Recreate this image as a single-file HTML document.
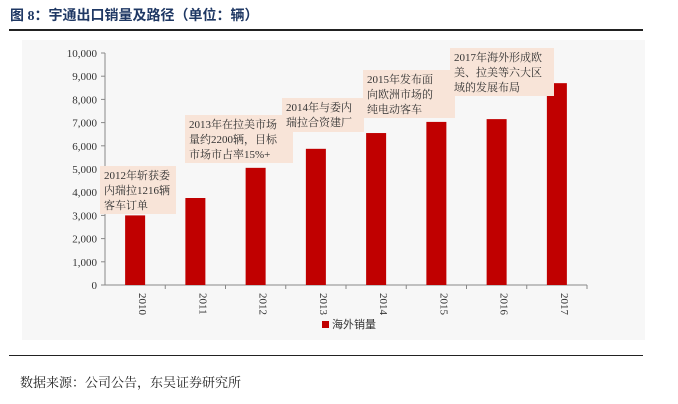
<!DOCTYPE html>
<html><head><meta charset="utf-8"><style>
body{margin:0;width:678px;height:404px;background:#fff;overflow:hidden;font-family:"Liberation Serif","Noto Serif CJK SC",serif;}
.t{position:absolute}
.note{position:absolute;background:#f8e4d8;font-size:11px;line-height:15px;color:#333;padding:3px 4px;box-sizing:border-box;white-space:nowrap;letter-spacing:0}
</style></head><body>
<div class="t" style="left:10px;top:5px;font-size:14px;font-weight:bold;color:#1f3864;font-family:'Liberation Serif','Noto Sans CJK SC',serif;">图 8：宇通出口销量及路径（单位：辆）</div>
<div class="t" style="left:9px;top:29px;width:634px;height:2px;background:#222"></div>
<div class="t" style="left:22px;top:40px;width:623px;height:300px;background:#f7f7f7"></div>
<svg class="t" style="left:0;top:0" width="678" height="404" id="svg"></svg>
<div class="note" style="left:100px;top:166px;width:76px;height:48px">2012年斩获委<br>内瑞拉1216辆<br>客车订单</div>
<div class="note" style="left:185px;top:115px;width:108px;height:48px">2013年在拉美市场<br>量约2200辆，目标<br>市场市占率15%+</div>
<div class="note" style="left:282px;top:98px;width:82px;height:34px">2014年与委内<br>瑞拉合资建厂</div>
<div class="note" style="left:363px;top:70px;width:92px;height:48px">2015年发布面<br>向欧洲市场的<br>纯电动客车</div>
<div class="note" style="left:450px;top:48px;width:104px;height:48px">2017年海外形成欧<br>美、拉美等六大区<br>域的发展布局</div>
<div class="t" style="left:322px;top:316px;font-size:11px;color:#333;font-family:'Liberation Sans','Noto Sans CJK SC',sans-serif"><span style="display:inline-block;width:7px;height:7px;background:#c00000;margin-right:3px"></span>海外销量</div>
<div class="t" style="left:9px;top:355px;width:634px;height:1px;background:#222"></div>
<div class="t" style="left:20px;top:372px;font-size:13px;color:#222;font-family:'Liberation Serif','Noto Serif CJK SC',serif">数据来源：公司公告，东吴证券研究所</div>
<script>
const categories=["2010","2011","2012","2013","2014","2015","2016","2017"];
const values=[3000,3750,5050,5870,6550,7030,7150,8700];
const yTicks=[0,1000,2000,3000,4000,5000,6000,7000,8000,9000,10000];
const svg=document.getElementById('svg');const NS='http://www.w3.org/2000/svg';
const x0=105,x1=587,y0=285,y1=53,yMax=10000;
const bw=(x1-x0)/categories.length;
const ys=v=>y0-(v/yMax)*(y0-y1);
function mk(t,a){const e=document.createElementNS(NS,t);for(const k in a)e.setAttribute(k,a[k]);svg.appendChild(e);return e;}
let ax=mk('line',{x1:x0,y1:y0,x2:x0,y2:y1,stroke:'#888'});


let bx=mk('line',{x1:x0,y1:y0,x2:x1,y2:y0,stroke:'#888'});


yTicks.forEach(v=>{const y=ys(v);
mk('line',{x1:x0-4,y1:y,x2:x0,y2:y,stroke:'#888'});
const t=mk('text',{x:x0-8,y:y+4,'text-anchor':'end','font-size':'11','fill':'#333','font-family':'Liberation Serif'});
t.textContent=v.toLocaleString('en-US');

});
categories.forEach((c,i)=>{const cx=x0+bw*(i+0.5);
mk('line',{x1:x0+bw*(i+1),y1:y0,x2:x0+bw*(i+1),y2:y0+4,stroke:'#888'});
const r=mk('rect',{x:cx-10,y:ys(values[i]),width:20,height:y0-ys(values[i]),fill:'#c00000'});


const t=mk('text',{x:0,y:0,transform:`translate(${cx+4},${y0+8}) rotate(90)`,'font-size':'11','fill':'#333','font-family':'Liberation Serif'});
t.textContent=c;

});
</script>
</body></html>
